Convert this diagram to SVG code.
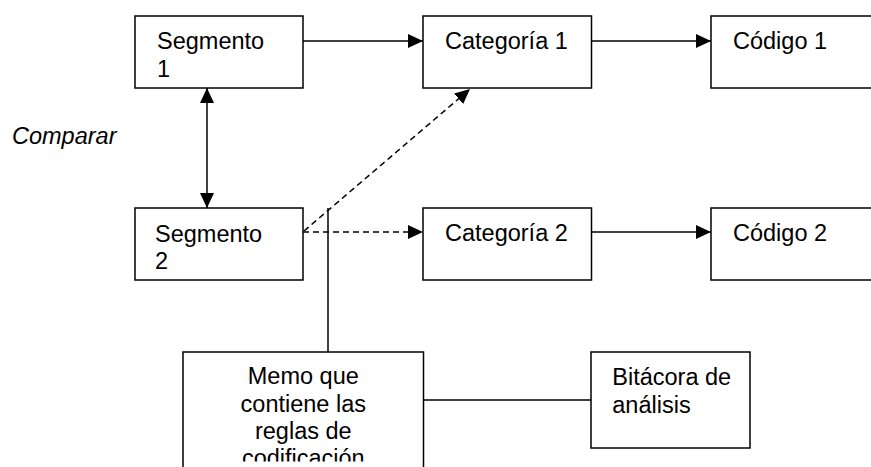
<svg xmlns="http://www.w3.org/2000/svg" width="871" height="467" viewBox="0 0 871 467">
<style>
.box{fill:#fff;stroke:#000;stroke-width:1.5}
.t{font-family:"Liberation Sans",Arial,sans-serif;font-size:23.5px;fill:#000}
.ln{stroke:#000;stroke-width:1.5;fill:none}
.dash{stroke-dasharray:6 4}
</style>
<defs>
<marker id="ah" viewBox="0 0 15 14" refX="15" refY="7" markerWidth="15" markerHeight="14" markerUnits="userSpaceOnUse" orient="auto-start-reverse">
<path d="M0,0 L15,7 L0,14 Z" fill="#000"/>
</marker>
<clipPath id="memoclip"><rect x="183" y="352" width="241" height="109.5"/></clipPath>
</defs>
<rect width="871" height="467" fill="#fff"/>
<g id="connectors">
<line class="ln" x1="303" y1="41" x2="423" y2="41" marker-end="url(#ah)"/>
<line class="ln" x1="592" y1="41" x2="711" y2="41" marker-end="url(#ah)"/>
<line class="ln" x1="592" y1="232" x2="711" y2="232" marker-end="url(#ah)"/>
<line class="ln" x1="207" y1="88" x2="207" y2="208" marker-start="url(#ah)" marker-end="url(#ah)"/>
<line class="ln dash" x1="303" y1="232" x2="423" y2="232" marker-end="url(#ah)"/>
<line class="ln dash" x1="304" y1="231" x2="470" y2="89" marker-end="url(#ah)"/>
<line class="ln" x1="328" y1="208" x2="328" y2="352"/>
<line class="ln" x1="423" y1="400" x2="591" y2="400"/>
</g>
<g id="comparar"><text class="t" x="12" y="144.3" font-style="italic">Comparar</text></g>
<g id="segmento1">
<rect class="box" x="135" y="16" width="168" height="72"/>
<text class="t" x="157" y="49.3">Segmento</text>
<text class="t" x="157" y="76.7">1</text>
</g>
<g id="categoria1">
<rect class="box" x="423" y="16" width="168.5" height="72"/>
<text class="t" x="445" y="49.3">Categoría 1</text>
</g>
<g id="codigo1">
<rect class="box" x="711" y="16" width="180" height="72"/>
<text class="t" x="733" y="49.3">Código 1</text>
</g>
<g id="segmento2">
<rect class="box" x="135" y="208" width="168" height="72"/>
<text class="t" x="155" y="241.7">Segmento</text>
<text class="t" x="155" y="269.3">2</text>
</g>
<g id="categoria2">
<rect class="box" x="423" y="208" width="168.5" height="72"/>
<text class="t" x="445" y="241.3">Categoría 2</text>
</g>
<g id="codigo2">
<rect class="box" x="711" y="208" width="180" height="72"/>
<text class="t" x="733" y="241.3">Código 2</text>
</g>
<g id="memo">
<rect class="box" x="183" y="352" width="240.5" height="130"/>
<g clip-path="url(#memoclip)" text-anchor="middle">
<text class="t" x="303.3" y="384.3">Memo que</text>
<text class="t" x="303.3" y="411.6">contiene las</text>
<text class="t" x="303.3" y="439">reglas de</text>
<text class="t" x="303.3" y="466.3">codificación</text>
</g>
</g>
<g id="bitacora">
<rect class="box" x="591" y="352" width="159" height="96"/>
<text class="t" x="612.3" y="385">Bitácora de</text>
<text class="t" x="612.3" y="412.7">análisis</text>
</g>
</svg>
